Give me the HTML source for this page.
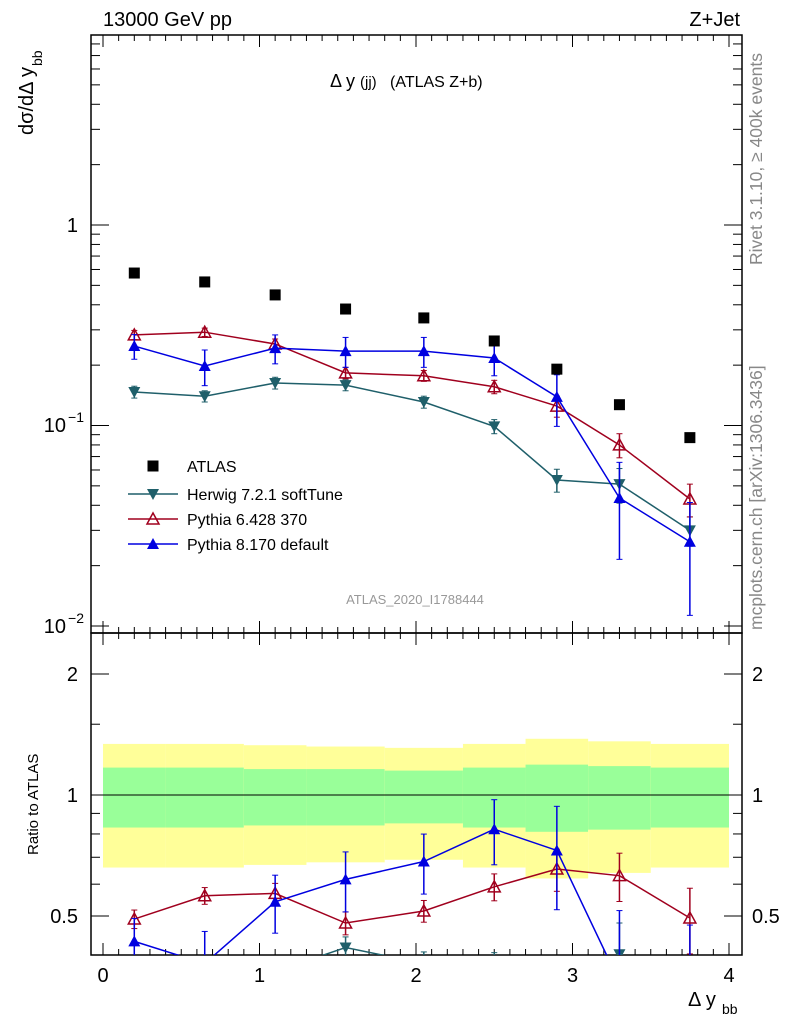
<!DOCTYPE html>
<html><head><meta charset="utf-8"><style>
html,body{margin:0;padding:0;background:#fff;overflow:hidden}
svg{font-family:"Liberation Sans",sans-serif;display:block}
</style></head><body>
<svg id="c" width="786" height="1024" viewBox="0 0 786 1024">
<defs>
<clipPath id="cm"><rect x="91" y="35" width="651" height="598"/></clipPath>
<clipPath id="cr"><rect x="91" y="633" width="651" height="322"/></clipPath>
</defs>
<g id="g"></g>
</svg>
<script>
const binEdges=[0,0.4,0.9,1.3,1.8,2.3,2.7,3.1,3.5,4.0];
const xCenters=[0.2,0.65,1.1,1.55,2.05,2.5,2.9,3.3,3.75];
const atlasVals=[0.576,0.52,0.448,0.381,0.344,0.264,0.191,0.127,0.087];
const bandInner=[0.17,0.17,0.16,0.16,0.15,0.17,0.19,0.18,0.17];
const bandOuter=[0.34,0.34,0.33,0.32,0.31,0.34,0.38,0.36,0.34];
const herwigVals=[0.147,0.140,0.163,0.159,0.131,0.099,0.0535,0.051,0.030];
const herwigErr=[0.010,0.009,0.011,0.010,0.009,0.008,0.007,0.010,0.005];
const py6Vals=[0.283,0.292,0.255,0.183,0.177,0.156,0.125,0.080,0.043];
const py6Err=[0.015,0.014,0.015,0.012,0.011,0.012,0.015,0.011,0.008];
const py8Vals=[0.249,0.198,0.243,0.235,0.235,0.217,0.139,0.0435,0.0263];
const py8Err=[0.035,0.040,0.040,0.040,0.040,0.040,0.040,0.022,0.015];
const xTicks=[0,1,2,3,4];

const NS="http://www.w3.org/2000/svg";
const G=document.getElementById('g');
const X=v=>103+v*156.5;
const Ym=v=>225-Math.log10(v)*200.5;
const Yr=v=>795-Math.log2(v)*121;
function mk(t,a,p){const e=document.createElementNS(NS,t);for(const k in a)e.setAttribute(k,a[k]);(p||G).appendChild(e);return e;}
function txt(s,x,y,a,p){const e=mk('text',Object.assign({x:x,y:y,'font-size':20,fill:'#000'},a||{}),p);e.textContent=s;return e;}

const rb=mk('g',{'clip-path':'url(#cr)'});

for(let i=0;i<xCenters.length;i++){
  const x0=X(binEdges[i]),x1=X(binEdges[i+1]);
  let r=mk('rect',{x:x0,y:Yr(1+bandOuter[i]),width:x1-x0,height:Yr(1-bandOuter[i])-Yr(1+bandOuter[i]),fill:'#ffff99'},rb);
  
  r=mk('rect',{x:x0,y:Yr(1+bandInner[i]),width:x1-x0,height:Yr(1-bandInner[i])-Yr(1+bandInner[i]),fill:'#99ff99'},rb);
  
}
mk('line',{x1:91,x2:742,y1:Yr(1),y2:Yr(1),stroke:'#000','stroke-width':1});

mk('rect',{x:91,y:35,width:651,height:598,fill:'none',stroke:'#000','stroke-width':1.5});
mk('rect',{x:91,y:633,width:651,height:322,fill:'none',stroke:'#000','stroke-width':1.5});

for(const t of xTicks){
  for(const [yb,dir] of [[955,-1],[633,1],[633,-1],[35,1]]){
    mk('line',{x1:X(t),x2:X(t),y1:yb,y2:yb+dir*12,stroke:'#000'});
  }
  const l=txt(String(t),X(t),982,{'text-anchor':'middle'});
  
}
for(let v=0.1;v<4.05;v+=0.1){ if(Math.abs(v-Math.round(v))<0.01)continue;
  for(const [yb,dir] of [[955,-1],[633,1],[633,-1],[35,1]]) mk('line',{x1:X(v),x2:X(v),y1:yb,y2:yb+dir*6,stroke:'#000'});
}
for(let d=-2;d<=0;d++){
  for(let m=1;m<10;m++){const v=m*Math.pow(10,d);const y=Ym(v);if(y<35)continue;
    const L=m==1?18:9;
    mk('line',{x1:91,x2:91+L,y1:y,y2:y,stroke:'#000'});mk('line',{x1:742,x2:742-L,y1:y,y2:y,stroke:'#000'});}
}
txt('1',78,232,{'text-anchor':'end'});
txt('10',66,432,{'text-anchor':'end'});txt('−1',84,422,{'text-anchor':'end','font-size':14});
txt('10',66,633,{'text-anchor':'end'});txt('−2',84,623,{'text-anchor':'end','font-size':14});
for(const v of [0.5,0.6,0.7,0.8,0.9,1,1.5,2]){const y=Yr(v);const L=[0.5,1,2].includes(v)?18:9;
  mk('line',{x1:91,x2:91+L,y1:y,y2:y,stroke:'#000'});mk('line',{x1:742,x2:742-L,y1:y,y2:y,stroke:'#000'});}
for(const [v,s] of [[0.5,'0.5'],[1,'1'],[2,'2']]){txt(s,78,Yr(v)+7,{'text-anchor':'end'});txt(s,752,Yr(v)+7);}

txt('13000 GeV pp',103,26);
txt('Z+Jet',740,26,{'text-anchor':'end'});
txt('Δ y',330,87,{'font-size':18});txt('(jj)',360,87,{'font-size':15});txt('(ATLAS Z+b)',390,87,{'font-size':16});
txt('ATLAS_2020_I1788444',415,604,{'font-size':13,fill:'#999','text-anchor':'middle'});
txt('dσ/dΔ y',0,0,{transform:'translate(33,135) rotate(-90)'});
txt('bb',0,0,{transform:'translate(42,66) rotate(-90)','font-size':14});
txt('Ratio to ATLAS',0,0,{transform:'translate(38,855) rotate(-90)','font-size':15});
txt('Δ y',688,1006);txt('bb',722,1014,{'font-size':14});
txt('Rivet 3.1.10, ≥ 400k events',0,0,{transform:'translate(762,265) rotate(-90)','font-size':17.5,fill:'#888'});
txt('mcplots.cern.ch [arXiv:1306.3436]',0,0,{transform:'translate(762,630) rotate(-90)','font-size':17.5,fill:'#888'});

function marker(type,x,y,col,p){
  if(type=='sq')return mk('rect',{x:x-5.5,y:y-5.5,width:11,height:11,fill:col},p);
  if(type=='down')return mk('polygon',{points:`${x-6},${y-5} ${x+6},${y-5} ${x},${y+6}`,fill:col},p);
  if(type=='up')return mk('polygon',{points:`${x-6},${y+5} ${x+6},${y+5} ${x},${y-6}`,fill:col},p);
  if(type=='upo')return mk('polygon',{points:`${x-6},${y+5} ${x+6},${y+5} ${x},${y-6}`,fill:'none',stroke:col,'stroke-width':1.5},p);
}
const series=[
 {name:'herwig',vals:herwigVals,err:herwigErr,col:'#1f5f6a',m:'down'},
 {name:'pythia6',vals:py6Vals,err:py6Err,col:'#a0001e',m:'upo'},
 {name:'pythia8',vals:py8Vals,err:py8Err,col:'#0000e0',m:'up'}];
const gm=mk('g',{'clip-path':'url(#cm)'});
const gr=mk('g',{'clip-path':'url(#cr)'});
for(const s of series){
  for(const [g,Y,f] of [[gm,Ym,(v,i)=>v],[gr,Yr,(v,i)=>v/atlasVals[i]]]){
    const pts=s.vals.map((v,i)=>X(xCenters[i])+','+Y(f(v,i))).join(' ');
    const pl=mk('polyline',{points:pts,fill:'none',stroke:s.col,'stroke-width':1.5},g);
    
    s.vals.forEach((v,i)=>{const x=X(xCenters[i]);
      const hi=Y(f(v+s.err[i],i)),lo=Y(f(Math.max(v-s.err[i],1e-4),i));
      mk('line',{x1:x,x2:x,y1:hi,y2:lo,stroke:s.col,'stroke-width':1.5},g);
      mk('line',{x1:x-3,x2:x+3,y1:hi,y2:hi,stroke:s.col},g);mk('line',{x1:x-3,x2:x+3,y1:lo,y2:lo,stroke:s.col},g);
      const mm=marker(s.m,x,Y(f(v,i)),s.col,g);
      
    });
  }
}
atlasVals.forEach((v,i)=>{const mm=marker('sq',X(xCenters[i]),Ym(v),'#000',gm);
  });

const lg=mk('g',{});

marker('sq',153,466,'#000',lg);txt('ATLAS',187,472,{'font-size':16},lg);
const le=[['Herwig 7.2.1 softTune','#1f5f6a','down',494],['Pythia 6.428 370','#a0001e','upo',519],['Pythia 8.170 default','#0000e0','up',544]];
for(const [n,c,m,y] of le){mk('line',{x1:128,x2:178,y1:y,y2:y,stroke:c,'stroke-width':1.5},lg);marker(m,153,y,c,lg);txt(n,187,y+6,{'font-size':16},lg);}
</script>
</body></html>
